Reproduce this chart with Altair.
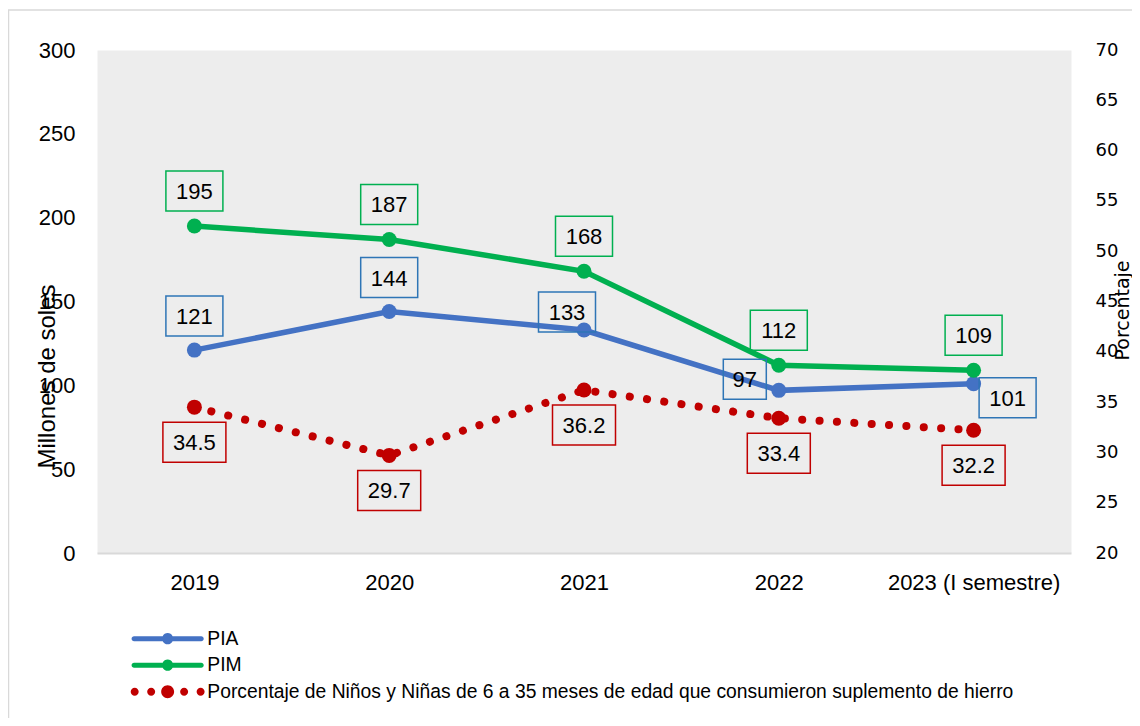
import altair as alt
import pandas as pd

# ---- data ----
years = ["2019", "2020", "2021", "2022", "2023 (I semestre)"]
pia = [121, 144, 133, 97, 101]
pim = [195, 187, 168, 112, 109]
pct = [34.5, 29.7, 36.2, 33.4, 32.2]
series = [
    "PIA",
    "PIM",
    "Porcentaje de Niños y Niñas de 6 a 35 meses de edad que consumieron suplemento de hierro",
]

BLUE = "#4472C4"
GREEN = "#00B050"
RED = "#C00000"
BOX_BLUE = "#2E75B6"
FONT = "Liberation Sans"
RFONT = "DejaVu Sans"

df = pd.DataFrame({"year": years, "pia": pia, "pim": pim, "pct": pct})
df["pia_t"] = df["pia"].astype(str)
df["pim_t"] = df["pim"].astype(str)
df["pct_t"] = df["pct"].map(lambda v: f"{v:.1f}")

xaxis = alt.Axis(title=None, labelAngle=0, ticks=False, domainColor="#D9D9D9",
                 domainWidth=2, labelFont=FONT, labelFontSize=22, labelColor="#000",
                 labelPadding=19)
X = alt.X("year:N", sort=years, axis=xaxis)


def yl_scale():
    return alt.Scale(domain=[0, 300], nice=False, zero=False)


def yr_scale():
    return alt.Scale(domain=[20, 70], nice=False, zero=False)


yl_axis = alt.Axis(orient="left", values=list(range(0, 301, 50)), grid=False, domain=False,
                   ticks=False, labelFont=FONT, labelFontSize=22, labelColor="#000",
                   labelPadding=22, title="Millones de soles", titleFont=FONT,
                   titleFontSize=24, titleFontWeight="normal", titleColor="#000",
                   titleAngle=270, titleX=-43, titleY=326, titleAlign="center",
                   titleBaseline="alphabetic")
yr_axis = alt.Axis(orient="right", values=list(range(20, 71, 5)), grid=False, domain=False,
                   ticks=False, labelFont=RFONT, labelFontSize=18, labelColor="#000",
                   labelPadding=24, title="Porcentaje", titleFont=RFONT, titleFontSize=19,
                   titleFontWeight="normal", titleColor="#000", titleAngle=270,
                   titleX=57, titleY=260, titleAlign="center", titleBaseline="alphabetic")


def box_path(w):
    hw = w / 2 / 20.0
    return f"M{-hw},-1 L{hw},-1 L{hw},1 L{-hw},1 Z"


def labels(field, tfield, color, subset, dx, dy, w, scale_fn):
    base = alt.Chart(df).transform_filter(
        alt.FieldOneOfPredicate(field="year", oneOf=subset)
    ).encode(x=X, y=alt.Y(f"{field}:Q", scale=scale_fn(), axis=None))
    box = base.mark_point(shape=box_path(w), size=1600, filled=False, stroke=color,
                          strokeWidth=1.5, opacity=1, xOffset=dx, yOffset=dy)
    txt = base.mark_text(font=FONT, fontSize=22, color="#000", align="center",
                         baseline="middle", xOffset=dx, yOffset=dy + 1).encode(text=f"{tfield}:N")
    return [box, txt]


# frame
frame = alt.Chart(pd.DataFrame({"a": [0]})).mark_rect(
    fillOpacity=0, stroke="#D9D9D9", strokeWidth=1.5
).encode(x=alt.value(-88.5), x2=alt.value(1200), y=alt.value(-40), y2=alt.value(900))

base = alt.Chart(df).encode(x=X)
pia_line = base.mark_line(color=BLUE, strokeWidth=5.5).encode(
    y=alt.Y("pia:Q", scale=yl_scale(), axis=yl_axis))
pia_pts = base.mark_point(filled=True, size=225, color=BLUE, opacity=1).encode(
    y=alt.Y("pia:Q", scale=yl_scale(), axis=None))
pim_line = base.mark_line(color=GREEN, strokeWidth=5.5).encode(
    y=alt.Y("pim:Q", scale=yl_scale(), axis=None))
pim_pts = base.mark_point(filled=True, size=225, color=GREEN, opacity=1).encode(
    y=alt.Y("pim:Q", scale=yl_scale(), axis=None))

pia_labels = (
    labels("pia", "pia_t", BOX_BLUE, years[0:2], 0, -34, 57, yl_scale)
    + labels("pia", "pia_t", BOX_BLUE, [years[2]], -17, -18, 57, yl_scale)
    + labels("pia", "pia_t", BOX_BLUE, [years[3]], -34, -11, 43, yl_scale)
    + labels("pia", "pia_t", BOX_BLUE, [years[4]], 34, 14, 57, yl_scale)
)
pim_labels = labels("pim", "pim_t", GREEN, years, 0, -35, 57, yl_scale)

pct_line = base.mark_line(color=RED, strokeWidth=8, strokeDash=[0.1, 17.3],
                          strokeCap="round").encode(
    y=alt.Y("pct:Q", scale=yr_scale(), axis=yr_axis))
pct_pts = base.mark_point(filled=True, size=225, color=RED, opacity=1).encode(
    y=alt.Y("pct:Q", scale=yr_scale(), axis=None))
pct_labels = labels("pct", "pct_t", RED, years, 0, 35, 63, yr_scale)

# legend symbols (unit = 8px)
p_line = ("M-4.2,-0.31 L-0.62,-0.31 A0.69,0.69 0 0,1 0.62,-0.31 L4.2,-0.31 "
          "A0.31,0.31 0 0,1 4.2,0.31 L0.62,0.31 A0.69,0.69 0 0,1 -0.62,0.31 "
          "L-4.2,0.31 A0.31,0.31 0 0,1 -4.2,-0.31 Z")


def circ(cx, r):
    return f"M{cx - r},0 A{r},{r} 0 1,0 {cx + r},0 A{r},{r} 0 1,0 {cx - r},0 Z "


p_dots = circ(-4.12, 0.5) + circ(-2.06, 0.5) + circ(0, 0.81) + circ(2.06, 0.5) + circ(4.12, 0.5)

leg = alt.Legend(title=None, orient="none", legendX=61, legendY=579, symbolSize=256,
                 symbolStrokeWidth=0, symbolOpacity=1, labelFont=FONT, labelFontSize=19.3,
                 labelColor="#000", labelOffset=30, rowPadding=6.5, padding=0, labelLimit=1200)
legend_layer = alt.Chart(pd.DataFrame({"serie": series})).mark_point(
    filled=True, opacity=0
).encode(
    x=alt.value(0), y=alt.value(0),
    color=alt.Color("serie:N", sort=series,
                    scale=alt.Scale(domain=series, range=[BLUE, GREEN, RED]), legend=leg),
    shape=alt.Shape("serie:N", sort=series,
                    scale=alt.Scale(domain=series, range=[p_line, p_line, p_dots]), legend=leg),
)

chart = alt.layer(
    frame, pia_line, pim_line, pia_pts, pim_pts, *pia_labels, *pim_labels,
    pct_line, pct_pts, *pct_labels, legend_layer
).resolve_scale(y="independent").properties(
    width=974, height=503, autosize="none",
    padding={"left": 89, "top": 42, "right": 61, "bottom": 165},
).configure(
    background="white",
    view=alt.ViewConfig(fill="#EDEDED", stroke="transparent"),
)

chart.save("out.html", embed_options={"renderer": "svg", "actions": False})
